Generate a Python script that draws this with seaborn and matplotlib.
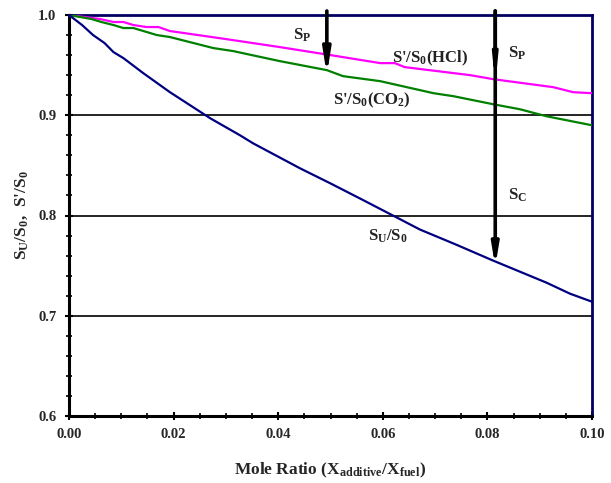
import matplotlib
matplotlib.use("Agg")
import matplotlib.pyplot as plt
import seaborn as sns
import pandas as pd
from matplotlib.ticker import MultipleLocator

# ---- data ----
su_x = [0, 0.0025, 0.0046, 0.0068, 0.0085, 0.0104, 0.0142, 0.0193, 0.0270, 0.0327,
        0.0352, 0.0442, 0.050, 0.056, 0.0623, 0.0671, 0.0740, 0.0811, 0.0913, 0.0958, 0.1]
su_y = [1.0, 0.990, 0.980, 0.972, 0.963, 0.957, 0.942, 0.923, 0.897, 0.880,
        0.872, 0.847, 0.832, 0.816, 0.799, 0.786, 0.771, 0.755, 0.733, 0.722, 0.714]

hcl_x = [0, 0.0059, 0.0085, 0.0104, 0.0123, 0.0148, 0.0171, 0.0193, 0.0300, 0.0403,
         0.0500, 0.0595, 0.0623, 0.0642, 0.0767, 0.0811, 0.0926, 0.0964, 0.1]
hcl_y = [1.0, 0.996, 0.993, 0.993, 0.990, 0.988, 0.988, 0.984, 0.976, 0.968,
         0.960, 0.952, 0.952, 0.948, 0.940, 0.936, 0.928, 0.923, 0.922]

co2_x = [0, 0.0043, 0.0062, 0.0085, 0.0104, 0.0123, 0.0168, 0.0193, 0.0276, 0.0314,
         0.0403, 0.0493, 0.0524, 0.0595, 0.0646, 0.0697, 0.0735, 0.0811, 0.0862, 0.0913, 0.1]
co2_y = [1.0, 0.996, 0.993, 0.990, 0.987, 0.987, 0.980, 0.978, 0.967, 0.964,
         0.954, 0.945, 0.939, 0.934, 0.928, 0.922, 0.919, 0.911, 0.906, 0.899, 0.890]

x_ticks = [0.00, 0.02, 0.04, 0.06, 0.08, 0.10]
y_ticks = [0.6, 0.7, 0.8, 0.9, 1.0]
grid_y = [0.7, 0.8, 0.9]

arrow1_x, arrow1_end = 0.0493, 0.940
arrow2_x, arrow2_end_p, arrow2_end_c = 0.0815, 0.931, 0.749

sns.set_style("white")
plt.rcParams['font.family'] = ['Liberation Serif', 'DejaVu Serif']
plt.rcParams['font.weight'] = 'bold'
plt.rcParams['mathtext.fontset'] = 'custom'
plt.rcParams['mathtext.rm'] = 'Liberation Serif:bold'
plt.rcParams['mathtext.it'] = 'Liberation Serif:bold'
plt.rcParams['mathtext.bf'] = 'Liberation Serif:bold'

fig = plt.figure(figsize=(6.11, 4.83), dpi=100)
ax = fig.add_axes([69 / 611, 1 - 416 / 483, (592 - 69) / 611, (416 - 15) / 483])

for gy in grid_y:
    ax.axhline(gy, color='black', lw=1.2, zorder=1)

df_su = pd.DataFrame({'x': su_x, 'y': su_y})
df_hcl = pd.DataFrame({'x': hcl_x, 'y': hcl_y})
df_co2 = pd.DataFrame({'x': co2_x, 'y': co2_y})
sns.lineplot(data=df_hcl, x='x', y='y', color='#FF00FF', lw=1.6, ax=ax, zorder=3)
sns.lineplot(data=df_co2, x='x', y='y', color='#008000', lw=1.6, ax=ax, zorder=3)
sns.lineplot(data=df_su, x='x', y='y', color='#000080', lw=1.6, ax=ax, zorder=3)

ax.set_xlim(0, 0.1)
ax.set_ylim(0.6, 1.0)
ax.set_xticks(x_ticks)
ax.set_xticklabels([f"{v:.2f}" for v in x_ticks])
ax.set_yticks(y_ticks)
ax.set_yticklabels([f"{v:.1f}" for v in y_ticks])
ax.xaxis.set_minor_locator(MultipleLocator(0.005))
ax.yaxis.set_minor_locator(MultipleLocator(0.02))
ax.tick_params(axis='both', which='major', direction='inout', length=6, width=1.5,
               labelsize=10.5, color='black', pad=6)
ax.tick_params(axis='both', which='minor', direction='inout', length=4, width=1.2,
               color='black')
ax.tick_params(bottom=True, left=True, top=False, right=False, which='both')
for lab in ax.get_xticklabels() + ax.get_yticklabels():
    lab.set_fontweight('bold')

for side in ['left', 'bottom']:
    ax.spines[side].set_color('black')
    ax.spines[side].set_linewidth(2.2)
for side in ['top', 'right']:
    ax.spines[side].set_color('#000060')
    ax.spines[side].set_linewidth(2.0)
    ax.spines[side].set_visible(True)

ax.set_xlabel(r"Mole Ratio (X$_{\mathrm{additive}}$/X$_{\mathrm{fuel}}$)",
              fontsize=12.5, fontweight='bold', labelpad=14)
ax.set_ylabel(r"S$_{\mathrm{U}}$/S$_0$,  S'/S$_0$", fontsize=12.5, fontweight='bold', labelpad=6)

ax.annotate('', xy=(arrow1_x, arrow1_end), xytext=(arrow1_x, 1.004),
            arrowprops=dict(arrowstyle='-|>,head_length=1.4,head_width=0.22', lw=2.6,
                            color='black', shrinkA=0, shrinkB=0),
            annotation_clip=False, zorder=5)
ax.annotate('', xy=(arrow2_x, arrow2_end_p), xytext=(arrow2_x, 1.004),
            arrowprops=dict(arrowstyle='-|>,head_length=1.2,head_width=0.12', lw=2.6,
                            color='black', shrinkA=0, shrinkB=0),
            annotation_clip=False, zorder=5)
ax.annotate('', xy=(arrow2_x, arrow2_end_c), xytext=(arrow2_x, 1.004),
            arrowprops=dict(arrowstyle='-|>,head_length=1.2,head_width=0.2', lw=2.6,
                            color='black', shrinkA=0, shrinkB=0),
            annotation_clip=False, zorder=5)

tk = dict(fontsize=12, fontweight='bold', color='#222222', zorder=6)
ax.text(0.0445, 0.980, r"S$_{\mathrm{P}}$", ha='center', va='center', **tk)
ax.text(0.0840, 0.962, r"S$_{\mathrm{P}}$", ha='left', va='center', **tk)
ax.text(0.0840, 0.820, r"S$_{\mathrm{C}}$", ha='left', va='center', **tk)
ax.text(0.0690, 0.957, r"S'/S$_0$(HCl)", ha='center', va='center', **tk)
ax.text(0.0580, 0.915, r"S'/S$_0$(CO$_2$)", ha='center', va='center', **tk)
ax.text(0.0610, 0.779, r"S$_{\mathrm{U}}$/S$_0$", ha='center', va='center', **tk)

fig.savefig("out.png", dpi=100)
